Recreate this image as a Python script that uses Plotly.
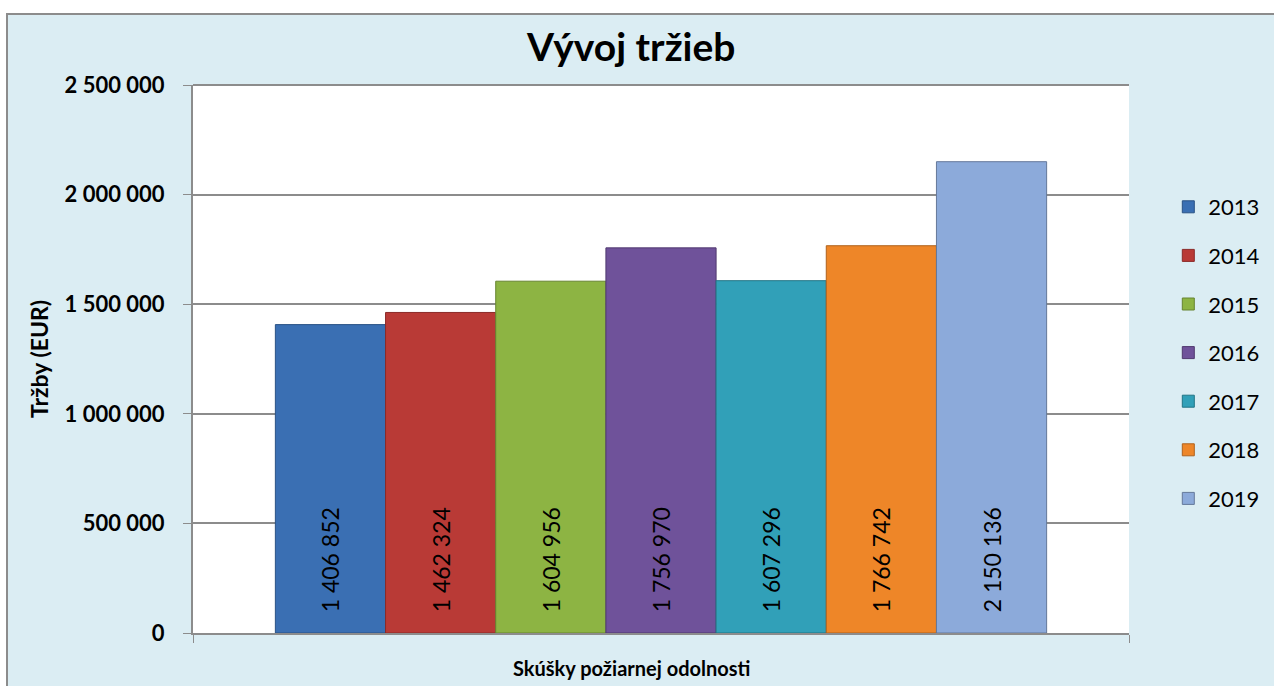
import plotly.graph_objects as go

years = ["2013", "2014", "2015", "2016", "2017", "2018", "2019"]
revenues = [1406852, 1462324, 1604956, 1756970, 1607296, 1766742, 2150136]
colors = ["#3A6FB3", "#B93A36", "#8DB443", "#6F529A", "#31A0B8", "#EE8628", "#8CAADA"]
line_colors = ["#2A5285", "#8A2A28", "#678430", "#50396F", "#217585", "#B0621C", "#64789A"]
category = "Skúšky požiarnej odolnosti"
y_ticks = [0, 500000, 1000000, 1500000, 2000000, 2500000]

def fmt(v):
    return f"{v:,}".replace(",", " ")

fig = go.Figure()
for yr, v, c, lc in zip(years, revenues, colors, line_colors):
    fig.add_trace(go.Bar(
        x=[category], y=[v], name=yr, legendgroup=yr,
        marker=dict(color=c, line=dict(color=lc, width=1)),
        text=["\u00a0\u00a0\u00a0" + fmt(v)], textposition="inside",
        insidetextanchor="start",
        textangle=-90, textfont=dict(family="Lato", size=23, color="black"),
        cliponaxis=False,
    ))

W, H = 1274, 686
L, R, T, B = 193, 145, 85, 53
pw, ph = W - L - R, H - T - B

fig.add_shape(type="rect", xref="paper", yref="paper", layer="below",
              x0=(7 - L) / pw, x1=(W + 20 - L) / pw,
              y0=-(B + 30) / ph, y1=(H - B - 14) / ph,
              fillcolor="#DBEDF3", line=dict(color="#8C8C8C", width=2))
fig.add_shape(type="rect", xref="paper", yref="paper", layer="below",
              x0=0, x1=1, y0=0, y1=1,
              fillcolor="white", line=dict(width=0))

fig.add_annotation(text="<b>" + category + "</b>", xref="paper", yref="paper",
                   x=(631 - L) / pw, y=-(668 - (H - B)) / ph,
                   xanchor="center", yanchor="middle", showarrow=False,
                   font=dict(family="Lato", size=20, color="black"))

fig.update_layout(
    width=W, height=H,
    margin=dict(l=L, r=R, t=T, b=B, autoexpand=False),
    paper_bgcolor="white", plot_bgcolor="white",
    barmode="group", bargap=0.176, bargroupgap=0,
    font=dict(family="Lato", color="black"),
    title=dict(text="<b>Vývoj tržieb</b>", x=0.4955, xanchor="center",
               y=1 - 47 / H, yanchor="middle",
               font=dict(family="Lato", size=39, color="black")),
    showlegend=True,
    legend=dict(x=1.042, xanchor="left", y=(H - B - 353) / ph, yanchor="middle",
                yref="paper", bgcolor="rgba(0,0,0,0)",
                font=dict(family="Lato", size=22, color="black"),
                traceorder="grouped", tracegroupgap=17, itemwidth=30),
    xaxis=dict(showticklabels=False, showgrid=False, showline=True,
               linecolor="#8C8C8C", linewidth=2, ticks="outside",
               tickson="boundaries", ticklen=8, tickcolor="#8C8C8C"),
    yaxis=dict(range=[0, 2500000], tickvals=y_ticks,
               ticktext=["<b>" + fmt(t) + "</b>" for t in y_ticks],
               showgrid=True, gridcolor="#8C8C8C", gridwidth=1.5,
               showline=True, linecolor="#8C8C8C", linewidth=2,
               ticks="outside", ticklen=8, tickcolor="#8C8C8C",
               ticklabelstandoff=14,
               tickfont=dict(family="Lato", size=22, color="black"),
               title=dict(text="<b>Tržby (EUR)</b>",
                          font=dict(family="Lato", size=23, color="black"),
                          standoff=10),
               zeroline=False),
)
fig.add_shape(type="line", xref="paper", yref="paper", x0=0, x1=1, y0=1, y1=1,
              line=dict(color="#8C8C8C", width=2), layer="below")

fig.write_html("out.html", config={"displayModeBar": False},
               post_script="document.body.style.margin='0';document.body.style.overflow='hidden';")
